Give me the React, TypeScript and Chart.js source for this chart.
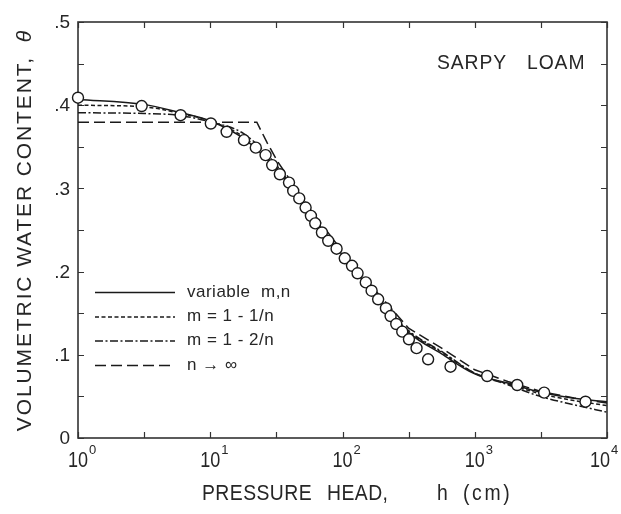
import React, { useEffect, useRef } from "react";
import { Chart, registerables } from "chart.js";

Chart.register(...registerables);

// Measured points (pressure head h in cm, volumetric water content)
const pointH = [1, 3.03, 5.97, 10.1, 13.3, 18.0, 22.1, 26.2, 29.4, 33.6, 39.4, 42.4, 47.1, 52.6, 57.7, 62.2, 69.9, 78.0, 90.2, 104, 118, 130, 150, 166, 186, 213, 231, 255, 283, 318, 363, 444, 656, 1241, 2094, 3349, 6880];
const pointTheta = [0.409, 0.399, 0.388, 0.378, 0.368, 0.358, 0.349, 0.340, 0.328, 0.317, 0.307, 0.297, 0.288, 0.277, 0.267, 0.258, 0.247, 0.237, 0.2275, 0.216, 0.207, 0.198, 0.187, 0.177, 0.1667, 0.156, 0.1466, 0.137, 0.1278, 0.1186, 0.108, 0.0946, 0.0857, 0.0745, 0.0637, 0.0545, 0.0436];

// Fitted curves
const curveH = [1, 3.16, 5.62, 10, 17.8, 31.6, 56.2, 100, 178, 316, 562, 1000, 1778, 3162, 5623, 10000];
const thetaVariableMN = [0.407, 0.401, 0.392, 0.381, 0.360, 0.323, 0.270, 0.220, 0.172, 0.127, 0.101, 0.077, 0.066, 0.055, 0.0477, 0.0436];
const thetaM1 = [0.400, 0.398, 0.391, 0.381, 0.362, 0.325, 0.270, 0.219, 0.172, 0.128, 0.103, 0.078, 0.065, 0.053, 0.045, 0.039];
const thetaM2 = [0.391, 0.390, 0.388, 0.380, 0.366, 0.328, 0.271, 0.218, 0.172, 0.129, 0.104, 0.078, 0.064, 0.0497, 0.040, 0.031];

const bcH = [1, 22.5, 26.9, 32.4, 39.8, 56.2, 79.4, 100, 132, 178, 316, 562, 1000, 1778, 3162, 5623, 10000];
const thetaBC = [0.3795, 0.3795, 0.355, 0.332, 0.311, 0.276, 0.245, 0.224, 0.200, 0.177, 0.132, 0.108, 0.082, 0.068, 0.056, 0.048, 0.042];

const seriesLabels = ["variable  m,n", "m = 1 - 1/n", "m = 1 - 2/n", "n \u2192 \u221E"];

// Axis ticks
const yTickValues = [0, 0.1, 0.2, 0.3, 0.4, 0.5];
const yTickLabels = ["0", ".1", ".2", ".3", ".4", ".5"];
const yMinorValues = [0.05, 0.15, 0.25, 0.35, 0.45];
const xDecades = [1, 10, 100, 1000, 10000];
const xExponents = ["0", "1", "2", "3", "4"];
const xMinorValues = [3.16, 31.6, 316, 3162];

const INK = "#1a1a1a";
const TEXT = "#262626";
const FONT = '"Liberation Sans", Arial, sans-serif';

function narrowText(ctx: any, text: string, x: number, y: number, sx: number) {
  ctx.save();
  ctx.translate(x, y);
  ctx.scale(sx, 1);
  ctx.fillText(text, 0, 0);
  ctx.restore();
}

const decorPlugin = {
  id: "decor",
  beforeDatasetsDraw(chart: any) {
    const { ctx, chartArea: a, scales } = chart;
    const x = scales.x;
    const y = scales.y;
    ctx.save();
    ctx.strokeStyle = "#333";
    ctx.lineWidth = 1.6;
    ctx.strokeRect(a.left, a.top, a.right - a.left, a.bottom - a.top);
    ctx.lineWidth = 1.2;
    const tl = 6;
    ctx.beginPath();
    [...yTickValues, ...yMinorValues].forEach((v) => {
      const py = Math.round(y.getPixelForValue(v)) + 0.5;
      ctx.moveTo(a.left, py);
      ctx.lineTo(a.left + tl, py);
      ctx.moveTo(a.right, py);
      ctx.lineTo(a.right - tl, py);
    });
    [...xDecades, ...xMinorValues].forEach((v) => {
      const px = Math.round(x.getPixelForValue(v)) + 0.5;
      ctx.moveTo(px, a.bottom);
      ctx.lineTo(px, a.bottom - tl);
      ctx.moveTo(px, a.top);
      ctx.lineTo(px, a.top + tl);
    });
    ctx.stroke();
    ctx.restore();
  },
  afterDraw(chart: any) {
    const { ctx, chartArea: a, scales } = chart;
    const x = scales.x;
    const y = scales.y;
    ctx.save();
    ctx.fillStyle = TEXT;

    // y tick labels
    ctx.font = `19px ${FONT}`;
    ctx.textAlign = "right";
    ctx.textBaseline = "middle";
    yTickValues.forEach((v, i) => {
      ctx.fillText(yTickLabels[i], a.left - 8, y.getPixelForValue(v) + 1);
    });

    // x tick labels: "10" + superscript exponent
    ctx.textBaseline = "alphabetic";
    ctx.textAlign = "left";
    const sx = 0.82;
    xDecades.forEach((v, i) => {
      let px = x.getPixelForValue(v);
      if (i === xDecades.length - 1) px -= 7;
      ctx.font = `22px ${FONT}`;
      const w = ctx.measureText("10").width * sx;
      narrowText(ctx, "10", px - w / 2, a.bottom + 29, sx);
      ctx.font = `13px ${FONT}`;
      ctx.fillText(xExponents[i], px + w / 2 + 1, a.bottom + 16);
    });

    // x axis title
    ctx.font = `22px ${FONT}`;
    ctx.textAlign = "left";
    const tx = 0.88;
    (ctx as any).letterSpacing = "0.5px";
    narrowText(ctx, "PRESSURE", 202, 500, tx);
    narrowText(ctx, "HEAD,", 327, 500, tx);
    narrowText(ctx, "h", 437, 500, tx);
    (ctx as any).letterSpacing = "3px";
    narrowText(ctx, "(cm)", 463, 500, tx);

    // y axis title (rotated)
    ctx.save();
    ctx.translate(31, 230);
    ctx.rotate(-Math.PI / 2);
    ctx.font = `21px ${FONT}`;
    (ctx as any).letterSpacing = "0px";
    const main = "VOLUMETRIC WATER CONTENT,";
    const baseW = ctx.measureText(main).width;
    const spacing = Math.max(0, (375 - baseW) / main.length);
    (ctx as any).letterSpacing = `${spacing}px`;
    const mainW = ctx.measureText(main).width;
    ctx.font = `italic 21px ${FONT}`;
    const thW = ctx.measureText("\u03B8").width;
    const total = mainW + 14 + thW;
    ctx.font = `21px ${FONT}`;
    ctx.textAlign = "left";
    ctx.fillText(main, -total / 2, 0);
    ctx.font = `italic 21px ${FONT}`;
    ctx.fillText("\u03B8", -total / 2 + mainW + 14, 0);
    ctx.restore();

    // soil name
    ctx.font = `21px ${FONT}`;
    (ctx as any).letterSpacing = "1px";
    ctx.textAlign = "left";
    ctx.textBaseline = "alphabetic";
    narrowText(ctx, "SARPY", 437, 69, 0.92);
    narrowText(ctx, "LOAM", 527, 69, 0.92);

    // legend
    (ctx as any).letterSpacing = "0.5px";
    const rows = [292, 316.5, 340.5, 365];
    const lineDs = chart.data.datasets.slice(1);
    lineDs.forEach((ds: any, i: number) => {
      const ly = rows[i] + 0.5;
      ctx.save();
      ctx.strokeStyle = INK;
      ctx.lineWidth = 1.5;
      ctx.setLineDash(ds.borderDash || []);
      ctx.beginPath();
      ctx.moveTo(95, ly);
      ctx.lineTo(175, ly);
      ctx.stroke();
      ctx.restore();
      ctx.font = `17px ${FONT}`;
      ctx.textBaseline = "middle";
      ctx.fillText(seriesLabels[i], 187, rows[i]);
    });

    ctx.restore();
  },
};

export default function App() {
  const ref = useRef<HTMLCanvasElement | null>(null);

  useEffect(() => {
    document.body.style.margin = "0";
    const canvas = ref.current;
    if (!canvas) return;

    const pts = pointH.map((h, i) => ({ x: h, y: pointTheta[i] }));
    const mk = (hs: number[], ts: number[]) => hs.map((h, i) => ({ x: h, y: ts[i] }));

    const lineBase = {
      showLine: true,
      pointRadius: 0,
      pointHoverRadius: 0,
      borderColor: INK,
      borderWidth: 1.5,
      fill: false,
    };

    const chart = new Chart(canvas, {
      type: "scatter",
      data: {
        datasets: [
          {
            label: "measured",
            data: pts,
            showLine: false,
            pointRadius: 5.5,
            pointHoverRadius: 5.5,
            pointBackgroundColor: "#ffffff",
            pointBorderColor: INK,
            pointBorderWidth: 1.4,
            clip: false,
          } as any,
          {
            ...lineBase,
            label: seriesLabels[0],
            data: mk(curveH, thetaVariableMN),
            cubicInterpolationMode: "monotone",
            borderDash: [],
          } as any,
          {
            ...lineBase,
            label: seriesLabels[1],
            data: mk(curveH, thetaM1),
            cubicInterpolationMode: "monotone",
            borderDash: [4, 2.5],
          } as any,
          {
            ...lineBase,
            label: seriesLabels[2],
            data: mk(curveH, thetaM2),
            cubicInterpolationMode: "monotone",
            borderDash: [8, 2.5, 2, 2.5],
          } as any,
          {
            ...lineBase,
            label: seriesLabels[3],
            data: mk(bcH, thetaBC),
            tension: 0,
            borderDash: [11, 5],
          } as any,
        ],
      },
      options: {
        responsive: false,
        animation: false,
        events: [],
        layout: { padding: { left: 78, right: 14, top: 22, bottom: 76 } },
        plugins: {
          legend: { display: false },
          tooltip: { enabled: false },
        },
        scales: {
          x: { type: "logarithmic", min: 1, max: 10000, display: false },
          y: { type: "linear", min: 0, max: 0.5, display: false },
        },
      },
      plugins: [decorPlugin],
    });

    return () => chart.destroy();
  }, []);

  return (
    <div style={{ width: 621, height: 514, background: "#fff" }}>
      <canvas ref={ref} width={621} height={514} style={{ display: "block" }} />
    </div>
  );
}
